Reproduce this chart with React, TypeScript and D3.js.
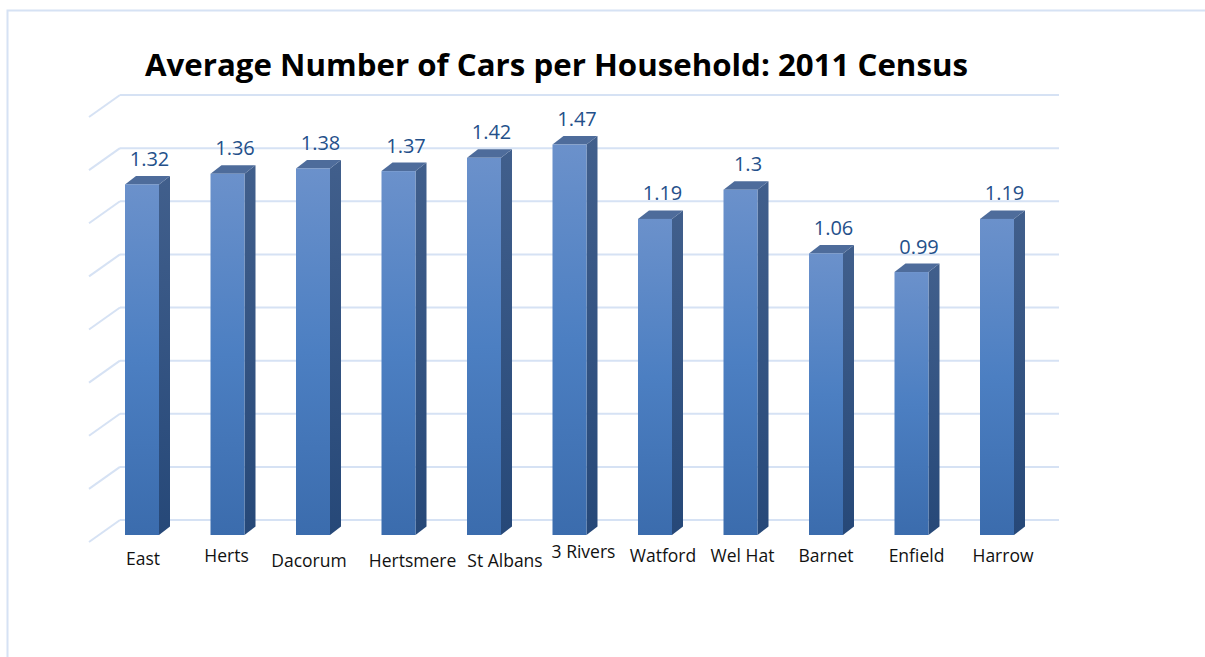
import React from "react";
import * as d3 from "d3";

const categories = ["East", "Herts", "Dacorum", "Hertsmere", "St Albans", "3 Rivers", "Watford", "Wel Hat", "Barnet", "Enfield", "Harrow"];
const values = [1.32, 1.36, 1.38, 1.37, 1.42, 1.47, 1.19, 1.3, 1.06, 0.99, 1.19];
const gridTicks = [0, 0.2, 0.4, 0.6, 0.8, 1.0, 1.2, 1.4, 1.6];
const title = "Average Number of Cars per Household: 2011 Census";

// layout nudges for category labels (Excel 3D label placement)
const labelNudge: [number, number][] = [
  [1, 3], [-1, 0], [-4, 5], [14, 5], [21, 5], [14, -4], [8, 0], [2, 0], [0, 0], [5, 0], [6, 0],
];

const W = 1205;
const H = 657;

export default function App() {
  const x = d3.scalePoint<string>().domain(categories).range([142, 997]);
  const yFront = d3.scaleLinear().domain([0, 1.6]).range([535, 110]);
  const yBack = d3.scaleLinear().domain([0, 1.6]).range([520, 95]);
  const wallX0 = 120;
  const wallX1 = 1059;
  const bw = 34;
  const dx = 11;
  const dy = -8.5;

  return (
    <svg width={W} height={H} style={{ position: "absolute", left: 0, top: 0, background: "#fff" }}>
      <defs>
        <linearGradient id="front" x1="0" y1="0" x2="0" y2="1">
          <stop offset="0" stopColor="#6b91cb" />
          <stop offset="0.5" stopColor="#4c7fc2" />
          <stop offset="1" stopColor="#3b6cad" />
        </linearGradient>
        <linearGradient id="side" x1="0" y1="0" x2="0" y2="1">
          <stop offset="0" stopColor="#415f8c" />
          <stop offset="1" stopColor="#264878" />
        </linearGradient>
      </defs>
      <rect x={7.5} y={10.5} width={W + 10} height={H + 10} fill="#fff" stroke="#d6e2f4" strokeWidth={2} />
      <text
        x={145}
        y={76}
        fontFamily="'Open Sans', Lato, sans-serif"
        fontWeight="bold"
        fontSize={30}
        textLength={823}
        lengthAdjust="spacingAndGlyphs"
        fill="#000"
      >
        {title}
      </text>
      {gridTicks.map((t) => {
        const yy = yBack(t);
        return (
          <g key={t}>
            <line x1={wallX0} y1={yy} x2={wallX1} y2={yy} stroke="#d6e2f4" strokeWidth={2} />
            <line x1={wallX0} y1={yy} x2={wallX0 - 31} y2={yy + 22} stroke="#d6e2f4" strokeWidth={2} />
          </g>
        );
      })}
      {categories.map((c, i) => {
        const cx = x(c)!;
        const xl = cx - bw / 2;
        const xr = cx + bw / 2;
        const yt = yFront(values[i]);
        const yb = yFront(0);
        return (
          <g key={c}>
            <path
              d={`M${xr},${yt} L${xr + dx},${yt + dy} L${xr + dx},${yb + dy} L${xr},${yb} Z`}
              fill="url(#side)"
            />
            <path
              d={`M${xl},${yt} L${xl + dx},${yt + dy} L${xr + dx},${yt + dy} L${xr},${yt} Z`}
              fill="#4e6c9b"
            />
            <rect x={xl} y={yt} width={bw} height={yb - yt} fill="url(#front)" />
            <text
              x={cx + dx / 2 + 2}
              y={yt + dy - 10}
              textAnchor="middle"
              fontFamily="'Open Sans', sans-serif"
              fontSize={20}
              fill="#24508a"
            >
              {values[i]}
            </text>
            <text
              x={cx + labelNudge[i][0]}
              y={562 + labelNudge[i][1]}
              textAnchor="middle"
              fontFamily="'Open Sans', sans-serif"
              fontSize={17.5}
              fill="#111"
            >
              {c}
            </text>
          </g>
        );
      })}
    </svg>
  );
}
